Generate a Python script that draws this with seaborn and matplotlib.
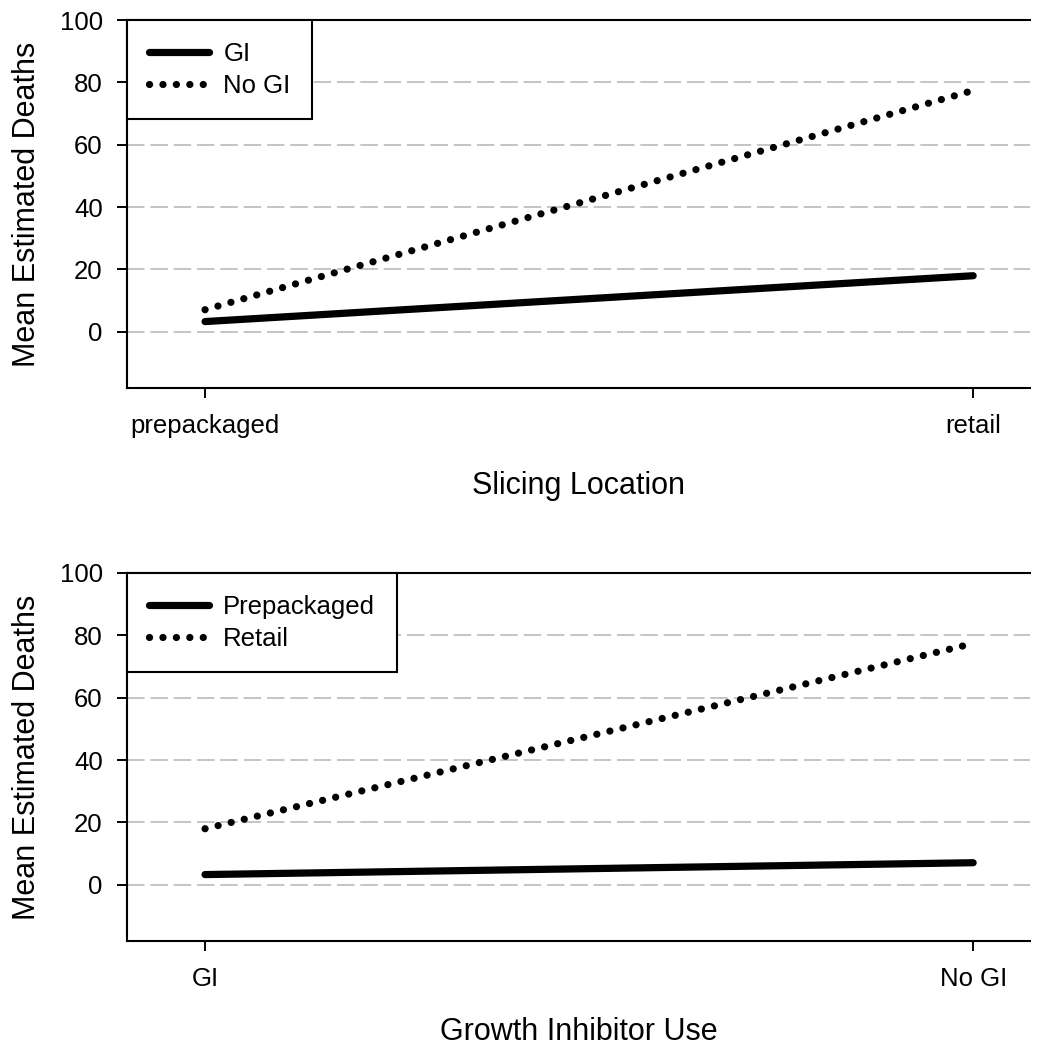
import matplotlib
matplotlib.use("Agg")
import matplotlib.pyplot as plt
import seaborn as sns
import pandas as pd

# ---- data ----
slicing = ["prepackaged", "retail"]
gi_by_slicing = [3.3, 18.0]
nogi_by_slicing = [7.1, 77.4]

inhibitor = ["GI", "No GI"]
prepack_by_gi = [3.3, 7.1]
retail_by_gi = [18.0, 77.4]

top_groups = ["GI", "No GI"]
bottom_groups = ["Prepackaged", "Retail"]

sns.set_theme(style="white")
plt.rcParams["font.family"] = ["Liberation Sans", "DejaVu Sans"]
plt.rcParams["text.color"] = "black"
plt.rcParams["axes.labelcolor"] = "black"
plt.rcParams["xtick.color"] = "black"
plt.rcParams["ytick.color"] = "black"

df_top = pd.DataFrame({
    "x": slicing + slicing,
    "y": gi_by_slicing + nogi_by_slicing,
    "grp": [top_groups[0]] * 2 + [top_groups[1]] * 2,
})
df_bot = pd.DataFrame({
    "x": inhibitor + inhibitor,
    "y": prepack_by_gi + retail_by_gi,
    "grp": [bottom_groups[0]] * 2 + [bottom_groups[1]] * 2,
})

W, H = 1042, 1049
fig = plt.figure(figsize=(W / 100, H / 100), dpi=100)
ax1 = fig.add_axes([127 / W, 1 - 388 / H, (1030 - 127) / W, (388 - 20) / H])
ax2 = fig.add_axes([127 / W, 1 - 941 / H, (1030 - 127) / W, (941 - 573) / H])

LW = 5.2
DOT = (0.01, 1.85)
FS = 18.5


def draw(ax, df, groups, xlabel, ticks, xlabelpad):
    sns.lineplot(data=df, x="x", y="y", style="grp", style_order=groups,
                 dashes={groups[0]: "", groups[1]: DOT}, color="black",
                 linewidth=LW, legend=False, ax=ax,
                 solid_capstyle="round", dash_capstyle="round", sort=False)
    ax.set_xlim(-0.1016, 1.074)
    ax.set_ylim(-18, 100)
    ax.set_yticks([0, 20, 40, 60, 80, 100])
    ax.set_xticks([0, 1])
    ax.set_xticklabels(ticks)
    ax.yaxis.grid(True, color="#c4c4c4", linestyle=(0, (9.0, 3.0)), linewidth=1.4)
    ax.set_axisbelow(True)
    ax.spines["right"].set_visible(False)
    for s in ["left", "bottom", "top"]:
        ax.spines[s].set_color("black")
        ax.spines[s].set_linewidth(1.5)
    ax.tick_params(axis="both", which="both", direction="out", length=7.5,
                   width=1.4, color="black", labelcolor="black", labelsize=FS,
                   left=True, bottom=True)
    ax.tick_params(axis="y", pad=10)
    ax.tick_params(axis="x", pad=11)
    ax.set_xlabel(xlabel, fontsize=22, labelpad=xlabelpad, color="black")
    ax.set_ylabel("Mean Estimated Deaths", fontsize=22, labelpad=13, color="black")
    leg = ax.legend(ax.lines[:2], groups, loc="upper left",
                    bbox_to_anchor=(0.0, 1.0), fontsize=FS, frameon=True,
                    fancybox=False, handlelength=2.35, handletextpad=0.55,
                    borderpad=0.85, labelspacing=0.3, borderaxespad=0.0)
    for t in leg.get_texts():
        t.set_color("black")
    fr = leg.get_frame()
    fr.set_edgecolor("black")
    fr.set_linewidth(1.5)
    fr.set_facecolor("white")
    fr.set_alpha(1)


draw(ax1, df_top, top_groups, "Slicing Location", slicing, 24)
draw(ax2, df_bot, bottom_groups, "Growth Inhibitor Use", inhibitor, 19)

fig.savefig("out.png", dpi=100, facecolor="white")
